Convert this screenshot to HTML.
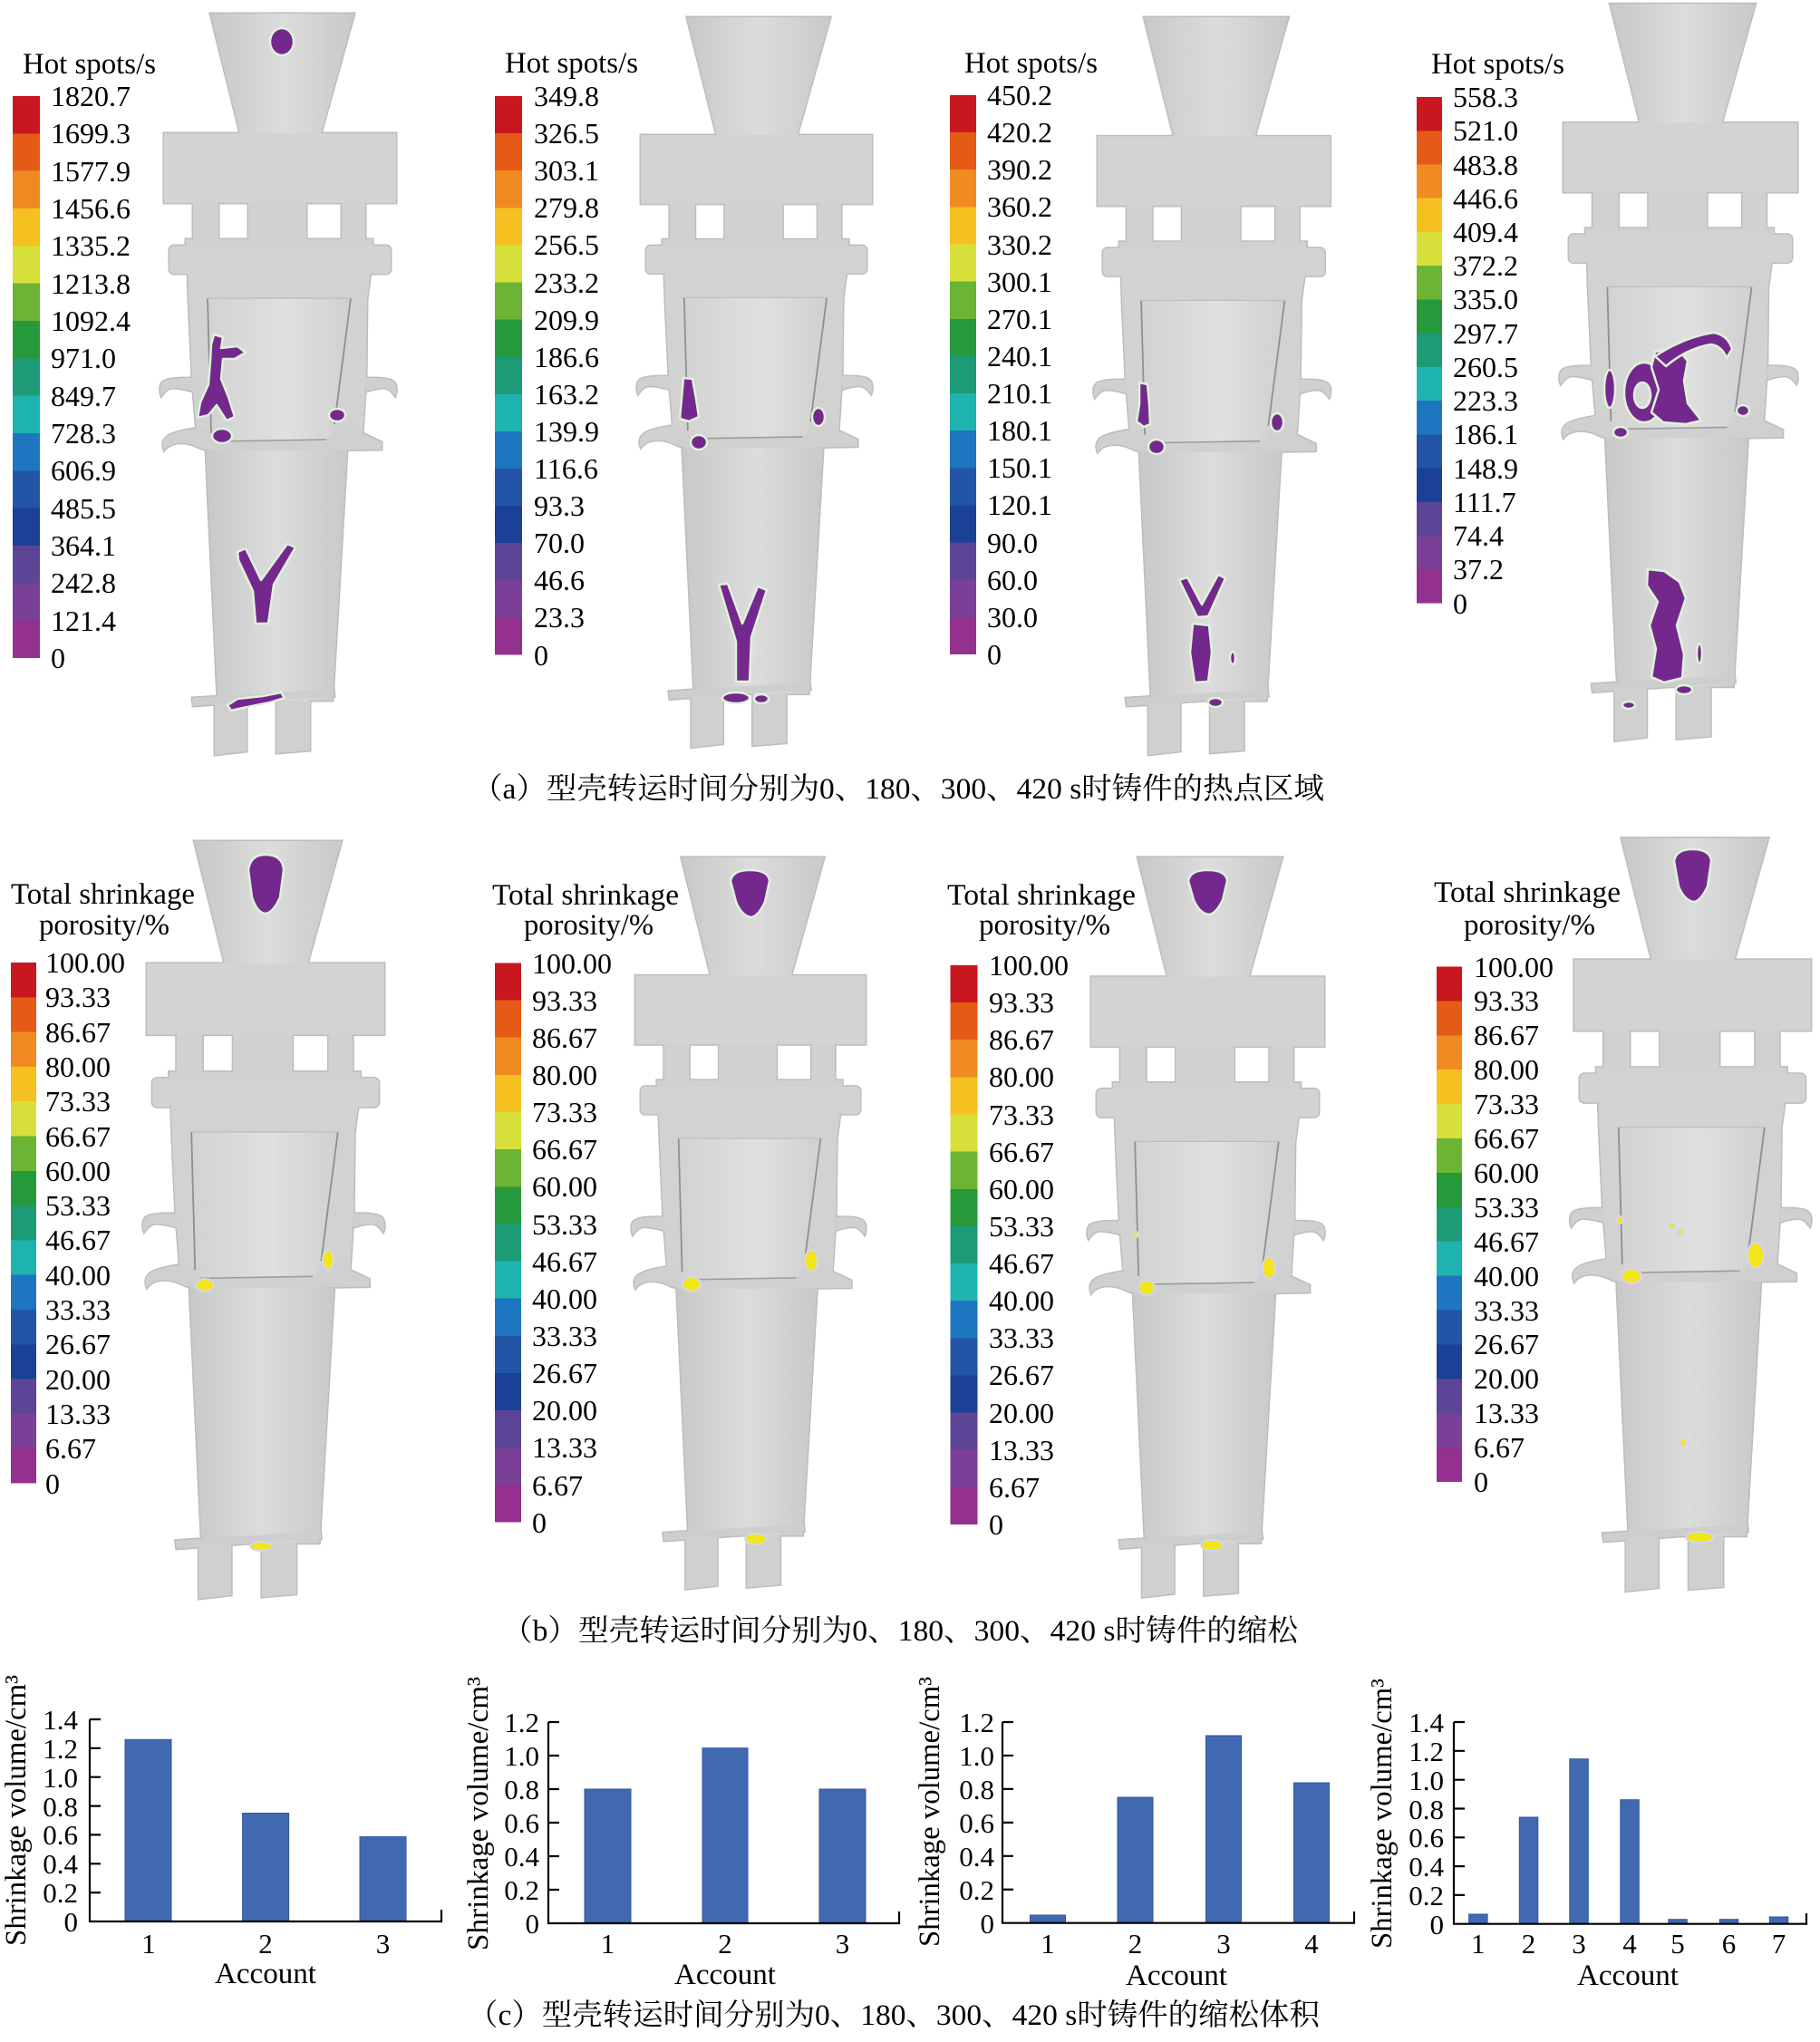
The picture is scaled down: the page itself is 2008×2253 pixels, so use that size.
<!DOCTYPE html>
<html><head><meta charset="utf-8"><style>
html,body{margin:0;padding:0;background:#fff;}
svg{display:block;}
.t{font-family:"Liberation Serif","Noto Serif CJK SC",serif;fill:#000;}
.lb{font-size:32px;}
.cap{font-size:33px;}
.tk{font-size:31px;}
</style></head><body>
<svg width="2008" height="2253" viewBox="0 0 2008 2253" xmlns="http://www.w3.org/2000/svg">
<defs>
<linearGradient id="cb" x1="0" y1="0" x2="0" y2="1">
<stop offset="0" stop-color="#c8171f"/><stop offset="0.0667" stop-color="#c8171f"/>
<stop offset="0.0667" stop-color="#e55b15"/><stop offset="0.1333" stop-color="#e55b15"/>
<stop offset="0.1333" stop-color="#f08a22"/><stop offset="0.2" stop-color="#f08a22"/>
<stop offset="0.2" stop-color="#f5c120"/><stop offset="0.2667" stop-color="#f5c120"/>
<stop offset="0.2667" stop-color="#d7e03a"/><stop offset="0.3333" stop-color="#d7e03a"/>
<stop offset="0.3333" stop-color="#6cb433"/><stop offset="0.4" stop-color="#6cb433"/>
<stop offset="0.4" stop-color="#26993b"/><stop offset="0.4667" stop-color="#26993b"/>
<stop offset="0.4667" stop-color="#1d9b76"/><stop offset="0.5333" stop-color="#1d9b76"/>
<stop offset="0.5333" stop-color="#1fb3b0"/><stop offset="0.6" stop-color="#1fb3b0"/>
<stop offset="0.6" stop-color="#1e76c0"/><stop offset="0.6667" stop-color="#1e76c0"/>
<stop offset="0.6667" stop-color="#2255a6"/><stop offset="0.7333" stop-color="#2255a6"/>
<stop offset="0.7333" stop-color="#1a4196"/><stop offset="0.8" stop-color="#1a4196"/>
<stop offset="0.8" stop-color="#5c4597"/><stop offset="0.8667" stop-color="#5c4597"/>
<stop offset="0.8667" stop-color="#7a4097"/><stop offset="0.9333" stop-color="#7a4097"/>
<stop offset="0.9333" stop-color="#94308e"/><stop offset="1" stop-color="#94308e"/>
</linearGradient>
<linearGradient id="gH" x1="0" y1="0" x2="1" y2="0">
<stop offset="0" stop-color="#c8c8c8"/><stop offset="0.5" stop-color="#dcdcdc"/><stop offset="1" stop-color="#c9c9c9"/>
</linearGradient>
<linearGradient id="gP" x1="0" y1="0" x2="1" y2="0">
<stop offset="0" stop-color="#d2d2d2"/><stop offset="0.55" stop-color="#e0e0e0"/><stop offset="1" stop-color="#d0d0d0"/>
</linearGradient>
<g id="cast">
 <path d="M232,15 H391 L354,148 H265 Z" fill="url(#gH)"/>
 <rect x="181" y="147" width="256" height="77" fill="#d3d3d3"/>
 <path d="M213,223 H241 V268 H213Z M274,223 H338 V268 H274Z M377,223 H403 V268 H377Z" fill="#d1d1d1"/>
 <rect x="205" y="264" width="206" height="10" fill="#d1d1d1"/>
 <rect x="187" y="271" width="244" height="31" rx="5" fill="#d3d3d3"/>
 <path d="M207,300 H409 L405,330 L404,418 L400,480 H217 L212,418 L208,330 Z" fill="#d2d2d2"/>
 <path d="M213,417 C200,417 186,417 180,421 C176,424 176,432 178,437 C181,433 184,429 190,428 C198,428 206,430 213,432 Z" fill="#d0d0d0"/>
 <path d="M404,417 C417,417 429,417 434,421 C438,424 438,432 436,437 C433,433 430,429 424,428 C416,428 410,430 404,432 Z" fill="#d0d0d0"/>
 <path d="M220,472 C205,474 190,477 184,482 C179,486 179,492 181,497 C184,493 188,490 196,489 C206,488 214,491 222,495 L238,499 L421,496 L421,488 L398,477 L398,470 Z" fill="#d0d0d0"/>
 <path d="M227,497 H383 L367,773 H240 Z" fill="url(#gH)"/>
 <path d="M212,770 L368,760 L369,768 L213,779 Z" fill="#cecece"/>
 <path d="M237,775 H272 V829 L237,833 Z" fill="#d0d0d0"/>
 <path d="M305,773 H342 V828 L305,831 Z" fill="#d0d0d0"/>
 <path d="M229,329 H387 L369,470 Q367,484 356,485 L240,487 Q233,486 233,475 Z" fill="url(#gP)"/>
 <path d="M229,329 L233,478" stroke="#8f8f8f" stroke-width="1.8" fill="none"/>
 <path d="M387,329 L369,468" stroke="#8f8f8f" stroke-width="1.8" fill="none"/>
 <path d="M238,487 L360,485" stroke="#9c9c9c" stroke-width="1.6" fill="none"/>
 <path d="M229,329 H387" stroke="#bdbdbd" stroke-width="1.2" fill="none"/>
</g>
</defs>

<!-- ===== castings ===== -->
<g stroke="#bdbdbd" stroke-width="3">
<use href="#cast"/>
<use href="#cast" transform="translate(834.5,19) scale(0.996,0.985) translate(-309,-15)"/>
<use href="#cast" transform="translate(1339.25,19) scale(1.002,0.995) translate(-309,-15)"/>
<use href="#cast" transform="translate(1854,4.3) scale(1.008,0.994) translate(-309,-15)"/>
<use href="#cast" transform="translate(293,928) scale(1.023,1.022) translate(-309,-15)"/>
<use href="#cast" transform="translate(828,946) scale(0.992,0.987) translate(-309,-15)"/>
<use href="#cast" transform="translate(1332.5,946) scale(1.004,0.998) translate(-309,-15)"/>
<use href="#cast" transform="translate(1867.35,924.7) scale(1.02,1.016) translate(-309,-15)"/>
</g>
<g stroke="none">
<use href="#cast"/>
<use href="#cast" transform="translate(834.5,19) scale(0.996,0.985) translate(-309,-15)"/>
<use href="#cast" transform="translate(1339.25,19) scale(1.002,0.995) translate(-309,-15)"/>
<use href="#cast" transform="translate(1854,4.3) scale(1.008,0.994) translate(-309,-15)"/>
<use href="#cast" transform="translate(293,928) scale(1.023,1.022) translate(-309,-15)"/>
<use href="#cast" transform="translate(828,946) scale(0.992,0.987) translate(-309,-15)"/>
<use href="#cast" transform="translate(1332.5,946) scale(1.004,0.998) translate(-309,-15)"/>
<use href="#cast" transform="translate(1867.35,924.7) scale(1.02,1.016) translate(-309,-15)"/>
</g>

<!-- ===== hot spot blobs (purple) ===== -->
<g fill="#74288e" stroke="#dff2da" stroke-width="2.5" stroke-linejoin="round">
 <!-- a1 -->
 <ellipse cx="311" cy="46" rx="13" ry="15"/>
 <polygon points="236,369 246,372 244,384 262,382 271,389 259,396 246,396 244,418 252,438 259,460 250,464 239,447 230,458 218,461 221,444 230,424 232,398 233,380"/>
 <ellipse cx="245" cy="481" rx="11" ry="8"/>
 <ellipse cx="372" cy="458" rx="9" ry="7"/>
 <polygon points="262,609 271,605 288,640 317,600 326,604 302,645 296,688 282,688 279,652 263,618"/>
 <polygon points="251,778 262,771 290,768 310,764 314,770 298,775 268,781 255,784"/>
 <!-- a2 -->
 <polygon points="754,417 764,418 768,440 771,460 760,465 750,462 752,440"/>
 <ellipse cx="771" cy="488" rx="9" ry="8"/>
 <ellipse cx="903" cy="460" rx="7" ry="10"/>
 <polygon points="793,645 803,644 819,688 836,647 846,651 829,703 827,752 812,752 812,708"/>
 <ellipse cx="812" cy="770" rx="15" ry="6"/>
 <ellipse cx="840" cy="771" rx="8" ry="5"/>
 <!-- a3 -->
 <polygon points="1257,422 1266,424 1268,446 1269,468 1262,471 1254,465 1257,446"/>
 <ellipse cx="1276" cy="493" rx="9" ry="8"/>
 <ellipse cx="1409" cy="466" rx="7" ry="10"/>
 <polygon points="1301,640 1310,637 1326,667 1344,634 1352,638 1333,680 1321,681"/>
 <polygon points="1316,688 1334,690 1337,720 1333,752 1318,753 1313,720"/>
 <ellipse cx="1360" cy="726" rx="3" ry="7"/>
 <ellipse cx="1341" cy="775" rx="8" ry="5"/>
 <!-- a4 -->
 <path fill-rule="evenodd" d="M1792,433 a22,33 0 1,0 44,0 a22,33 0 1,0 -44,0 Z M1803,436 a9,14 0 1,1 18,0 a9,14 0 1,1 -18,0 Z"/>
 <polygon points="1826,388 1850,384 1862,398 1858,420 1862,445 1877,464 1860,468 1835,466 1822,455 1830,430 1822,405"/>
 <path d="M1826,393 Q1858,372 1890,367 Q1906,369 1911,385 L1905,395 Q1900,382 1888,380 Q1862,384 1838,404 Z"/>
 <ellipse cx="1776" cy="429" rx="6" ry="21"/>
 <ellipse cx="1788" cy="477" rx="8" ry="6"/>
 <ellipse cx="1923" cy="453" rx="7" ry="6"/>
 <polygon points="1818,628 1836,630 1853,642 1860,660 1850,690 1858,722 1856,748 1836,753 1822,747 1827,716 1820,690 1829,664 1817,646"/>
 <ellipse cx="1875" cy="721" rx="3" ry="11"/>
 <ellipse cx="1858" cy="761" rx="9" ry="5"/>
 <ellipse cx="1797" cy="778" rx="7" ry="4"/>
 <!-- row b funnel blobs -->
 <path d="M274,960 Q276,943 293,943 Q312,943 313,960 L309,990 Q301,1008 292,1008 Q283,1006 278,990 Z"/>
 <path d="M806,972 Q808,960 827,960 Q848,960 849,972 L844,995 Q836,1012 828,1012 Q818,1010 812,995 Z"/>
 <path d="M1311,972 Q1313,960 1332,960 Q1353,960 1354,972 L1349,993 Q1341,1009 1333,1009 Q1323,1007 1317,993 Z"/>
 <path d="M1847,950 Q1849,937 1867,937 Q1887,937 1888,950 L1884,978 Q1876,995 1868,995 Q1858,993 1852,978 Z"/>
</g>

<!-- ===== yellow porosity blobs ===== -->
<g fill="#f2e51a" stroke="#d6d6f0" stroke-width="2">
 <ellipse cx="226" cy="1418" rx="10" ry="7"/>
 <ellipse cx="362" cy="1390" rx="6" ry="11"/>
 <ellipse cx="288" cy="1706" rx="12" ry="5"/>
 <ellipse cx="763" cy="1417" rx="10" ry="8"/>
 <ellipse cx="895" cy="1391" rx="7" ry="12"/>
 <ellipse cx="834" cy="1698" rx="12" ry="6"/>
 <ellipse cx="1253" cy="1362" rx="3" ry="3"/>
 <ellipse cx="1265" cy="1421" rx="9" ry="8"/>
 <ellipse cx="1400" cy="1399" rx="7" ry="12"/>
 <ellipse cx="1337" cy="1705" rx="12" ry="6"/>
 <ellipse cx="1787" cy="1346" rx="4" ry="4"/>
 <ellipse cx="1845" cy="1352" rx="3.5" ry="3.5"/>
 <ellipse cx="1854" cy="1359" rx="3.5" ry="3.5"/>
 <ellipse cx="1800" cy="1408" rx="11" ry="8"/>
 <ellipse cx="1937" cy="1385" rx="9" ry="14"/>
 <ellipse cx="1857" cy="1592" rx="4" ry="4"/>
 <ellipse cx="1875" cy="1696" rx="15" ry="6"/>
</g>

<!-- ===== colorbars ===== -->
<g fill="url(#cb)">
 <rect x="14" y="106" width="30" height="620"/>
 <rect x="546" y="106" width="30" height="616.5"/>
 <rect x="1048" y="105" width="29" height="617"/>
 <rect x="1563" y="107" width="28" height="558.6"/>
 <rect x="12" y="1062" width="28" height="574.5"/>
 <rect x="546" y="1062.5" width="29" height="617"/>
 <rect x="1048.5" y="1065" width="30" height="617"/>
 <rect x="1585" y="1066.5" width="28" height="568.5"/>
</g>

<!-- ===== legend titles ===== -->
<g class="t" font-size="33">
 <text x="25" y="81" textLength="147" lengthAdjust="spacingAndGlyphs">Hot spots/s</text>
 <text x="557" y="80" textLength="147" lengthAdjust="spacingAndGlyphs">Hot spots/s</text>
 <text x="1064" y="80" textLength="147" lengthAdjust="spacingAndGlyphs">Hot spots/s</text>
 <text x="1579" y="81" textLength="147" lengthAdjust="spacingAndGlyphs">Hot spots/s</text>
 <text x="12" y="997" textLength="203" lengthAdjust="spacingAndGlyphs">Total shrinkage</text>
 <text x="43" y="1031" textLength="144" lengthAdjust="spacingAndGlyphs">porosity/%</text>
 <text x="543" y="998" textLength="206" lengthAdjust="spacingAndGlyphs">Total shrinkage</text>
 <text x="578" y="1031" textLength="143" lengthAdjust="spacingAndGlyphs">porosity/%</text>
 <text x="1045" y="998" textLength="208" lengthAdjust="spacingAndGlyphs">Total shrinkage</text>
 <text x="1080" y="1031" textLength="145" lengthAdjust="spacingAndGlyphs">porosity/%</text>
 <text x="1582" y="995" textLength="206" lengthAdjust="spacingAndGlyphs">Total shrinkage</text>
 <text x="1615" y="1031" textLength="145" lengthAdjust="spacingAndGlyphs">porosity/%</text>
</g>

<!-- ===== legend labels ===== -->
<text class="t lb"><tspan x="56" y="117">1820.7</tspan><tspan x="56" y="158">1699.3</tspan><tspan x="56" y="200">1577.9</tspan><tspan x="56" y="241">1456.6</tspan><tspan x="56" y="282">1335.2</tspan><tspan x="56" y="324">1213.8</tspan><tspan x="56" y="365">1092.4</tspan><tspan x="56" y="406">971.0</tspan><tspan x="56" y="448">849.7</tspan><tspan x="56" y="489">728.3</tspan><tspan x="56" y="530">606.9</tspan><tspan x="56" y="572">485.5</tspan><tspan x="56" y="613">364.1</tspan><tspan x="56" y="654">242.8</tspan><tspan x="56" y="696">121.4</tspan><tspan x="56" y="737">0</tspan></text>
<text class="t lb"><tspan x="589" y="117">349.8</tspan><tspan x="589" y="158">326.5</tspan><tspan x="589" y="199">303.1</tspan><tspan x="589" y="240">279.8</tspan><tspan x="589" y="281">256.5</tspan><tspan x="589" y="323">233.2</tspan><tspan x="589" y="364">209.9</tspan><tspan x="589" y="405">186.6</tspan><tspan x="589" y="446">163.2</tspan><tspan x="589" y="487">139.9</tspan><tspan x="589" y="528">116.6</tspan><tspan x="589" y="569">93.3</tspan><tspan x="589" y="610">70.0</tspan><tspan x="589" y="651">46.6</tspan><tspan x="589" y="692">23.3</tspan><tspan x="589" y="734">0</tspan></text>
<text class="t lb"><tspan x="1089" y="116">450.2</tspan><tspan x="1089" y="157">420.2</tspan><tspan x="1089" y="198">390.2</tspan><tspan x="1089" y="239">360.2</tspan><tspan x="1089" y="281">330.2</tspan><tspan x="1089" y="322">300.1</tspan><tspan x="1089" y="363">270.1</tspan><tspan x="1089" y="404">240.1</tspan><tspan x="1089" y="445">210.1</tspan><tspan x="1089" y="486">180.1</tspan><tspan x="1089" y="527">150.1</tspan><tspan x="1089" y="568">120.1</tspan><tspan x="1089" y="610">90.0</tspan><tspan x="1089" y="651">60.0</tspan><tspan x="1089" y="692">30.0</tspan><tspan x="1089" y="733">0</tspan></text>
<text class="t lb"><tspan x="1603" y="118">558.3</tspan><tspan x="1603" y="155">521.0</tspan><tspan x="1603" y="193">483.8</tspan><tspan x="1603" y="230">446.6</tspan><tspan x="1603" y="267">409.4</tspan><tspan x="1603" y="304">372.2</tspan><tspan x="1603" y="341">335.0</tspan><tspan x="1603" y="379">297.7</tspan><tspan x="1603" y="416">260.5</tspan><tspan x="1603" y="453">223.3</tspan><tspan x="1603" y="490">186.1</tspan><tspan x="1603" y="528">148.9</tspan><tspan x="1603" y="565">111.7</tspan><tspan x="1603" y="602">74.4</tspan><tspan x="1603" y="639">37.2</tspan><tspan x="1603" y="677">0</tspan></text>
<text class="t lb"><tspan x="50" y="1073">100.00</tspan><tspan x="50" y="1111">93.33</tspan><tspan x="50" y="1150">86.67</tspan><tspan x="50" y="1188">80.00</tspan><tspan x="50" y="1226">73.33</tspan><tspan x="50" y="1265">66.67</tspan><tspan x="50" y="1303">60.00</tspan><tspan x="50" y="1341">53.33</tspan><tspan x="50" y="1379">46.67</tspan><tspan x="50" y="1418">40.00</tspan><tspan x="50" y="1456">33.33</tspan><tspan x="50" y="1494">26.67</tspan><tspan x="50" y="1533">20.00</tspan><tspan x="50" y="1571">13.33</tspan><tspan x="50" y="1609">6.67</tspan><tspan x="50" y="1648">0</tspan></text>
<text class="t lb"><tspan x="587" y="1074">100.00</tspan><tspan x="587" y="1115">93.33</tspan><tspan x="587" y="1156">86.67</tspan><tspan x="587" y="1197">80.00</tspan><tspan x="587" y="1238">73.33</tspan><tspan x="587" y="1279">66.67</tspan><tspan x="587" y="1320">60.00</tspan><tspan x="587" y="1362">53.33</tspan><tspan x="587" y="1403">46.67</tspan><tspan x="587" y="1444">40.00</tspan><tspan x="587" y="1485">33.33</tspan><tspan x="587" y="1526">26.67</tspan><tspan x="587" y="1567">20.00</tspan><tspan x="587" y="1608">13.33</tspan><tspan x="587" y="1650">6.67</tspan><tspan x="587" y="1691">0</tspan></text>
<text class="t lb"><tspan x="1091" y="1076">100.00</tspan><tspan x="1091" y="1117">93.33</tspan><tspan x="1091" y="1158">86.67</tspan><tspan x="1091" y="1199">80.00</tspan><tspan x="1091" y="1241">73.33</tspan><tspan x="1091" y="1282">66.67</tspan><tspan x="1091" y="1323">60.00</tspan><tspan x="1091" y="1364">53.33</tspan><tspan x="1091" y="1405">46.67</tspan><tspan x="1091" y="1446">40.00</tspan><tspan x="1091" y="1487">33.33</tspan><tspan x="1091" y="1528">26.67</tspan><tspan x="1091" y="1570">20.00</tspan><tspan x="1091" y="1611">13.33</tspan><tspan x="1091" y="1652">6.67</tspan><tspan x="1091" y="1693">0</tspan></text>
<text class="t lb"><tspan x="1626" y="1078">100.00</tspan><tspan x="1626" y="1115">93.33</tspan><tspan x="1626" y="1153">86.67</tspan><tspan x="1626" y="1191">80.00</tspan><tspan x="1626" y="1229">73.33</tspan><tspan x="1626" y="1267">66.67</tspan><tspan x="1626" y="1305">60.00</tspan><tspan x="1626" y="1343">53.33</tspan><tspan x="1626" y="1381">46.67</tspan><tspan x="1626" y="1419">40.00</tspan><tspan x="1626" y="1457">33.33</tspan><tspan x="1626" y="1494">26.67</tspan><tspan x="1626" y="1532">20.00</tspan><tspan x="1626" y="1570">13.33</tspan><tspan x="1626" y="1608">6.67</tspan><tspan x="1626" y="1646">0</tspan></text>

<!-- ===== captions ===== -->
<text class="t cap" x="521" y="881" textLength="940" lengthAdjust="spacingAndGlyphs">（a）型壳转运时间分别为0、180、300、420 s时铸件的热点区域</text>
<text class="t cap" x="554" y="1810" textLength="878" lengthAdjust="spacingAndGlyphs">（b）型壳转运时间分别为0、180、300、420 s时铸件的缩松</text>
<text class="t cap" x="516" y="2234" textLength="940" lengthAdjust="spacingAndGlyphs">（c）型壳转运时间分别为0、180、300、420 s时铸件的缩松体积</text>

<!-- ===== bar charts ===== -->
<g fill="#4169b1" stroke="#2f579f" stroke-width="1">
 <rect x="138" y="1919.3" width="51" height="200.7"/>
 <rect x="267.6" y="2000.5" width="51" height="119.5"/>
 <rect x="397" y="2026.6" width="51" height="93.4"/>
 <rect x="645" y="1974" width="51" height="148"/>
 <rect x="775" y="1928.7" width="50" height="193.3"/>
 <rect x="904" y="1974" width="51" height="148"/>
 <rect x="1136.5" y="2113" width="39" height="8.7"/>
 <rect x="1233" y="1983" width="39" height="138.7"/>
 <rect x="1330.5" y="1915" width="39" height="206.7"/>
 <rect x="1427.5" y="1967" width="39" height="154.7"/>
 <rect x="1620.6" y="2112" width="20.5" height="10.7"/>
 <rect x="1676.3" y="2005" width="20.5" height="117.7"/>
 <rect x="1731.8" y="1940.7" width="20.5" height="182"/>
 <rect x="1787.8" y="1985.7" width="20.5" height="137"/>
 <rect x="1840.8" y="2117.7" width="20.5" height="5"/>
 <rect x="1897.3" y="2117.7" width="20.5" height="5"/>
 <rect x="1952.3" y="2115" width="20.5" height="7.7"/>
</g>
<g stroke="#000" stroke-width="2.2" fill="none">
 <path d="M99,1897 V2120 H487 V2107"/>
 <path d="M99,1897 h12 M99,1928.8 h12 M99,1960.7 h12 M99,1992.6 h12 M99,2024.4 h12 M99,2056.3 h12 M99,2088.1 h12"/>
 <path d="M605,1900 V2122 H992 V2109"/>
 <path d="M605,1900 h12 M605,1937 h12 M605,1974 h12 M605,2011 h12 M605,2048 h12 M605,2085 h12"/>
 <path d="M1106,1900 V2121.7 H1494 V2109"/>
 <path d="M1106,1900 h12 M1106,1936.95 h12 M1106,1973.9 h12 M1106,2010.85 h12 M1106,2047.8 h12 M1106,2084.75 h12"/>
 <path d="M1604,1900 V2122.7 H1993 V2111"/>
 <path d="M1604,1900 h12 M1604,1931.8 h12 M1604,1963.7 h12 M1604,1995.5 h12 M1604,2027.3 h12 M1604,2059.1 h12 M1604,2090.9 h12"/>
</g>
<!-- y tick labels -->
<g class="t tk" text-anchor="end">
 <text><tspan x="86" y="2131">0</tspan><tspan x="86" y="2099">0.2</tspan><tspan x="86" y="2067">0.4</tspan><tspan x="86" y="2035">0.6</tspan><tspan x="86" y="2004">0.8</tspan><tspan x="86" y="1972">1.0</tspan><tspan x="86" y="1940">1.2</tspan><tspan x="86" y="1908">1.4</tspan></text>
 <text><tspan x="595" y="2133">0</tspan><tspan x="595" y="2096">0.2</tspan><tspan x="595" y="2059">0.4</tspan><tspan x="595" y="2022">0.6</tspan><tspan x="595" y="1985">0.8</tspan><tspan x="595" y="1948">1.0</tspan><tspan x="595" y="1911">1.2</tspan></text>
 <text><tspan x="1097" y="2133">0</tspan><tspan x="1097" y="2096">0.2</tspan><tspan x="1097" y="2059">0.4</tspan><tspan x="1097" y="2022">0.6</tspan><tspan x="1097" y="1985">0.8</tspan><tspan x="1097" y="1948">1.0</tspan><tspan x="1097" y="1911">1.2</tspan></text>
 <text><tspan x="1593" y="2134">0</tspan><tspan x="1593" y="2102">0.2</tspan><tspan x="1593" y="2070">0.4</tspan><tspan x="1593" y="2038">0.6</tspan><tspan x="1593" y="2007">0.8</tspan><tspan x="1593" y="1975">1.0</tspan><tspan x="1593" y="1943">1.2</tspan><tspan x="1593" y="1911">1.4</tspan></text>
</g>
<!-- x tick labels -->
<g class="t tk" text-anchor="middle">
 <text y="2155"><tspan x="164">1</tspan><tspan x="293">2</tspan><tspan x="422.5">3</tspan></text>
 <text y="2155"><tspan x="670.5">1</tspan><tspan x="800">2</tspan><tspan x="929.5">3</tspan></text>
 <text y="2155"><tspan x="1156">1</tspan><tspan x="1252.5">2</tspan><tspan x="1350">3</tspan><tspan x="1447">4</tspan></text>
 <text y="2155"><tspan x="1630.8">1</tspan><tspan x="1686.5">2</tspan><tspan x="1742">3</tspan><tspan x="1798">4</tspan><tspan x="1851">5</tspan><tspan x="1907.5">6</tspan><tspan x="1962.5">7</tspan></text>
</g>
<g class="t" font-size="33">
 <text x="237" y="2188" textLength="112" lengthAdjust="spacingAndGlyphs">Account</text>
 <text x="744" y="2189" textLength="112" lengthAdjust="spacingAndGlyphs">Account</text>
 <text x="1242" y="2190" textLength="112" lengthAdjust="spacingAndGlyphs">Account</text>
 <text x="1740" y="2190" textLength="112" lengthAdjust="spacingAndGlyphs">Account</text>
 <text transform="translate(28,2147) rotate(-90)" textLength="299" lengthAdjust="spacingAndGlyphs">Shrinkage volume/cm³</text>
 <text transform="translate(538,2152) rotate(-90)" textLength="302" lengthAdjust="spacingAndGlyphs">Shrinkage volume/cm³</text>
 <text transform="translate(1036,2148) rotate(-90)" textLength="298" lengthAdjust="spacingAndGlyphs">Shrinkage volume/cm³</text>
 <text transform="translate(1535,2150) rotate(-90)" textLength="298" lengthAdjust="spacingAndGlyphs">Shrinkage volume/cm³</text>
</g>
</svg>
</body></html>
